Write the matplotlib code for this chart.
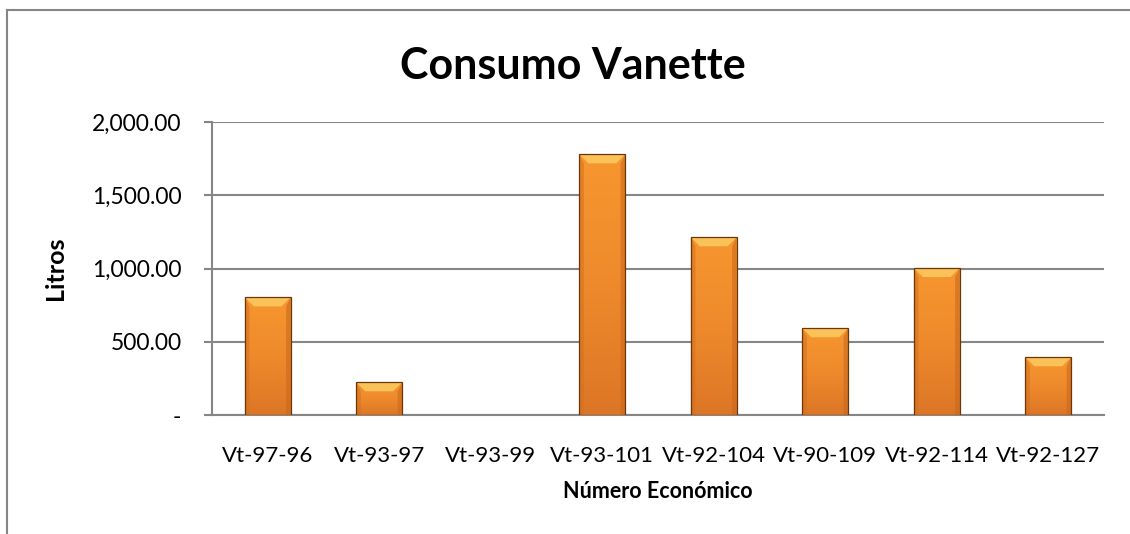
import numpy as np
import matplotlib.pyplot as plt
from matplotlib.ticker import FuncFormatter
from matplotlib.lines import Line2D
from matplotlib.patches import Polygon
from matplotlib.colors import LinearSegmentedColormap

# data
unidades = ['Vt-97-96', 'Vt-93-97', 'Vt-93-99', 'Vt-93-101',
            'Vt-92-104', 'Vt-90-109', 'Vt-92-114', 'Vt-92-127']
litros = [803, 223, 0, 1779, 1213, 592, 1003, 394]

plt.rcParams['font.family'] = ['Lato', 'DejaVu Sans']

fig = plt.figure(figsize=(11.3, 5.34), dpi=100)
W, H = 1130, 534
ax = fig.add_axes([212 / W, 1 - 415 / H, (1104 - 212) / W, (415 - 122) / H])

x = np.arange(len(unidades))
bars = ax.bar(x, litros, width=0.41, color='#F39230', linewidth=0, zorder=3)

# shading and bevel inside each bar
grad = np.linspace(0, 1, 256).reshape(-1, 1)
cmap = LinearSegmentedColormap.from_list(
    'naranja', ['#DC7626', '#EE8A2C', '#F7962F'])
bevel_y = 9 / 0.1465      # ~9 px in data units
bevel_x = 9 / 111.5       # ~9 px in category units
for b in bars:
    if b.get_height() <= 0:
        continue
    x0, w, h = b.get_x(), b.get_width(), b.get_height()
    im = ax.imshow(grad, extent=(x0, x0 + w, 0, h), origin='lower',
                   cmap=cmap, aspect='auto', zorder=3.5)
    im.set_clip_path(b)
    by = min(bevel_y, h * 0.5)
    ax.add_patch(Polygon([(x0, h), (x0 + w, h), (x0 + w - bevel_x, h - by),
                          (x0 + bevel_x, h - by)], closed=True,
                         facecolor='#FBC25A', edgecolor='none', zorder=3.6))
    # darker side strips
    ax.add_patch(Polygon([(x0, 0), (x0 + bevel_x * 0.5, 0),
                          (x0 + bevel_x * 0.5, h - by), (x0, h)], closed=True,
                         facecolor='#D27020', alpha=0.55, edgecolor='none',
                         zorder=3.6))
    ax.add_patch(Polygon([(x0 + w, 0), (x0 + w - bevel_x * 0.5, 0),
                          (x0 + w - bevel_x * 0.5, h - by), (x0 + w, h)],
                         closed=True, facecolor='#C9661A', alpha=0.55,
                         edgecolor='none', zorder=3.6))
    ax.add_patch(plt.Rectangle((x0, 0), w, h, fill=False,
                               edgecolor='#6B3608', linewidth=0.9, zorder=3.7))

ax.set_xlim(-0.5, len(unidades) - 0.5)
ax.set_ylim(0, 2000)
ax.set_yticks([0, 500, 1000, 1500, 2000])
ax.yaxis.set_major_formatter(FuncFormatter(
    lambda v, p: '-' if v == 0 else f'{v:,.2f}'))
ax.set_xticks(x)
ax.set_xticklabels(unidades)

ax.grid(axis='y', color='#868686', linewidth=1.5, zorder=1)
ax.set_axisbelow(True)
for s in ['top', 'right']:
    ax.spines[s].set_visible(False)
ax.spines['left'].set_color('#868686')
ax.spines['left'].set_linewidth(1.5)
ax.spines['bottom'].set_color('#868686')
ax.spines['bottom'].set_linewidth(1.5)
ax.tick_params(axis='y', length=6, width=1.5, color='#868686',
               labelsize=16.5, pad=16)
ax.tick_params(axis='x', length=0, labelsize=16, pad=22)

ax.set_ylabel('Litros', fontsize=18, fontweight='bold', labelpad=18)
ax.set_xlabel('Número Económico', fontsize=15.5, fontweight='bold',
              labelpad=11)

fig.text(573 / W, 1 - 66 / H, 'Consumo Vanette', fontsize=31,
         fontweight='bold', ha='center', va='center')

# chart frame (top and left edges visible)
fig.add_artist(Line2D([7 / W, 1], [1 - 9.5 / H, 1 - 9.5 / H],
                      color='#868686', lw=1.5, transform=fig.transFigure))
fig.add_artist(Line2D([7 / W, 7 / W], [1 - 9.5 / H, 0],
                      color='#868686', lw=1.5, transform=fig.transFigure))

fig.savefig('out.png', dpi=100)
